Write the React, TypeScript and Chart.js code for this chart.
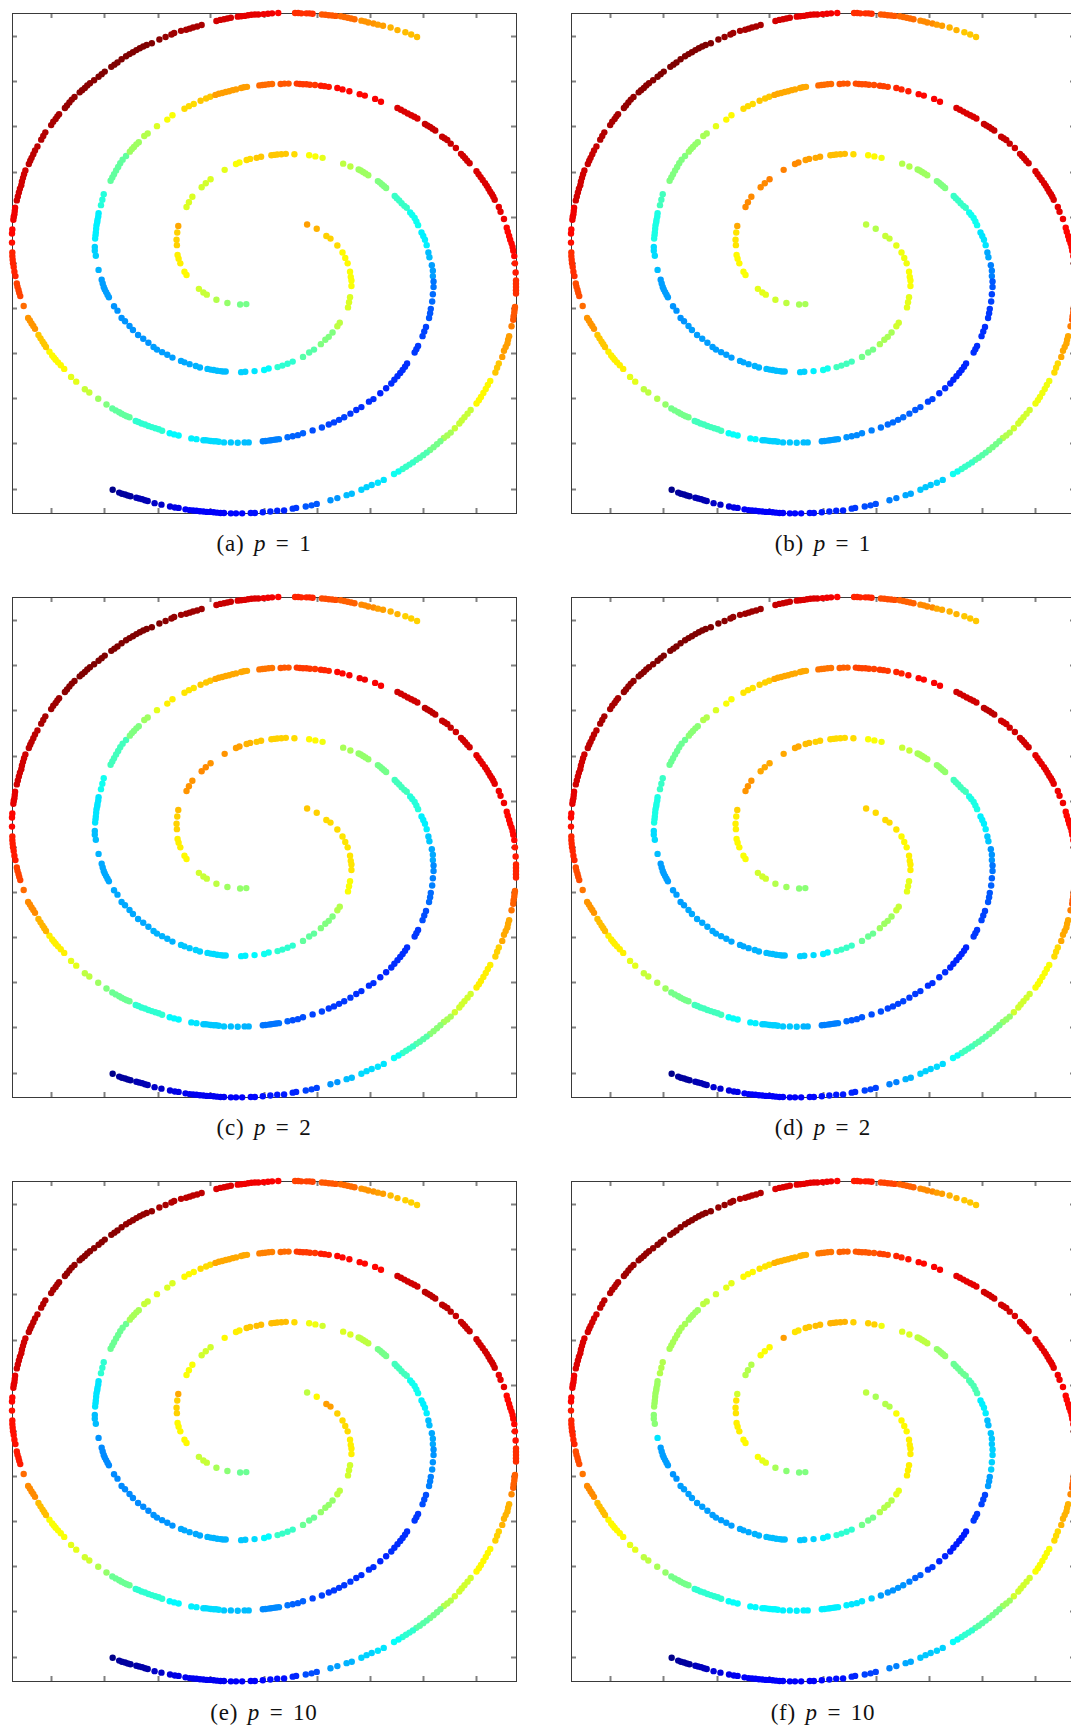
import React, { useEffect, useRef } from "react";
import { Chart, registerables } from "chart.js";

Chart.register(...registerables);

// Read-off coordinates along the two spiral arms, grouped in runs of neighbouring points.
const spiralX: number[][] = [
  [892],[920],[948,960],[980],[995,1003,1010],[1017,1019,1021,1021],[1017,1014,1011],[987,980],[966,955,945,932],[912,898,880],
  [850,835,820,806],[780,767],[739],[712,700],[655,647,640,630,620,611,602],[580,568],[550,535,525],[500,485,470,455,445],[430,415,400,385,375],[362,352],
  [340,330],[315,311,307,303,300,297,294],[285],[277,274,274],[275,276,277,278,279,281,282,284,285],[292,296,300],[320,325,330,336,342,348,355,365],[376,382,388,395,402],[418,428],[455],
  [485,500],[535,548,562],[582,598,610],[625,635,645,655,665,675,685,700,708,717],[753,762,770,780,790],[815,826,838],[862,871,880,890,900,915],[932,943,955],[980,995],[1015],
  [1045,1060],[1090,1107],[1155,1165,1175,1185,1195,1204,1213],[1235,1242,1250,1257,1265],[1285,1292,1300,1310],[1325],[1340,1346,1352,1358,1365],[1385,1391,1397,1403,1410,1415,1420,1425,1430,1434,1438],[1450,1455],[1465],
  [1473,1476,1480,1483,1487,1490,1492,1495],[1497,1499],[1500,1500,1500,1500,1500],[1497,1496,1495,1493,1492],[1487],[1480,1477,1475,1470,1465,1460],[1450,1445,1440],[1425,1418,1412,1405,1398,1392,1385],[1368,1359,1350,1342,1335,1322],[1310,1300,1290],
  [1280,1270,1260,1250],[1240,1230,1220,1210],[1200,1190,1180,1170],[1158,1145],[1115,1098],[1080,1065,1050],[1022,1007],[980,960],[920,905,888],[860,850],
  [825,805,785],[763],[740,728],[703,685,670],[650,640,630,620,610,600,590,580,570,560,550,538],[518,507],[493],[468,448],[428,420,412,403,395],[378,370,362,353,345],
  [326],[715,697],[660],[628],[600,590],[577],[541,535],[523,518,515],[513,512,514],[517],
  [541,548,558],[585,597],[611],[652],[685,695],[716,726],[745,758],[788,796,805,817,830],[855],[898,916],
  [937],[997,1018],[1042,1048,1055,1062,1070],[1098,1104,1110,1116,1122],[1147,1153,1160,1167,1175,1182],[1192,1198,1205,1210,1215],[1225,1230,1235,1240],[1245,1248],[1255,1258,1258],[1260,1260],
  [1258,1256],[1252,1250,1247],[1238,1233,1228],[1215,1210,1205],[1183,1177,1170,1163,1155,1146,1137],[1122,1105],[1085,1072],[1050,1035],[1018],[1000,985,970,955],
  [935],[908],[880,865,850],[835],[810,802,795,787,780,771,763],[722,710],[690,670],[650],[635,627,620,612,605,597,590],[570,555],
  [518,505,492],[470,460,450,440,430,420,410,401,393],[375,367,360,352,345,335,325],[308],[284],[258,245],[220,205],[185,175,167,160,155,150,142],[132,127,122,116,110],[100,95,90,85,80],
  [67],[57,54,52,49,47],[43,40,38,36,35,34,34],[33],[33,34],[37,38,40,41,42],[47,50,53,56,60,62,65,68,72],[82,86,90,95,100,107],[118,124,130],[147,153,160,165,170],
  [187,193,200,207,215],[230,237,245,252,260,272],[285,294,303],[322,331,340,352],[365,375,385,395,405,415,425,440],[462],[480],[497,505],[525,540,550,560,572,585],[628,639,650,660,670],
  [690,700,710,720,730,740,750],[765,778,790],[808],[857,866,875,890,899,908],[935,945,955,965,975],[990,1000,1010,1020,1030],[1050,1060,1070,1085],[1098,1113],[1135,1155],[1178,1195,1212],
];
const spiralY: number[][] = [
  [618],[630],[650,657],[676],[695,710,725],[748,762,772,787],[818,832,846],[888,898],[915,927,935,947],[962,970,982],
  [995,1001,1006,1010],[1014,1018],[1021],[1023,1024],[1022,1022,1021,1020,1018,1017,1015],[1011,1007],[1002,997,993],[984,976,969,962,955],[943,932,922,908,897],[884,875],
  [855,843],[818,811,804,797,790,780,770],[743],[704,690,680],[657,648,640,630,620,612,605,596,587],[565,550,535],[498,489,480,470,460,450,440,430],[418,411,405,398,392],[375,368],[348],
  [330,318],[300,293,287],[278,272,267],[262,259,257,254,252,249,247,243,241,240],[236,235,234,233,232],[232,231,231],[231,232,233,233,234,235],[237,238,240],[243,247],[252],
  [260,264],[273,281],[298,303,308,313,318,322,327],[342,346,350,355,360],[377,381,386,396],[408],[424,430,436,443,450],[472,480,488,496,505,512,520,528,535,542,550],[570,583],[603],
  [627,638,650,660,670,680,690,705],[725,750],[772,781,790,799,808],[845,852,860,870,880],[898],[925,935,945,955,965,982],[1000,1012,1025],[1048,1059,1070,1081,1092,1101,1110],[1128,1138,1148,1157,1165,1178],[1190,1198,1205],
  [1214,1222,1230,1238],[1245,1252,1259,1265],[1272,1278,1284,1290],[1297,1304],[1320,1328],[1334,1340,1347],[1358,1362],[1370,1376],[1386,1390,1393],[1397,1399],
  [1404,1405,1407],[1409],[1411,1411],[1412,1412,1412],[1411,1411,1410,1409,1408,1408,1407,1406,1405,1404,1403,1401],[1397,1396],[1393],[1388,1384],[1378,1376,1373,1371,1369],[1365,1363,1360,1358,1355],
  [1347],[837,838],[834],[825],[811,805],[795],[757,748],[725,712,702],[675,660,640],[622],
  [570,557,542],[516,505],[494],[468],[452,448],[441,438],[435,432],[428,427,426,425,424],[425],[428,431],
  [435],[451,459],[467,470,474,478,483],[499,503,508,513,518],[540,546,552,560,567,572],[585,592,600,610,620],[640,650,660,675],[695,708],[730,745,760],[775,790],
  [810,830],[850,862,875],[900,912,925],[952,961,970],[1000,1009,1018,1026,1035,1045,1055],[1068,1082],[1098,1105],[1120,1128],[1138],[1148,1155,1162,1168],
  [1176],[1184],[1192,1197,1200],[1203],[1208,1209,1210,1211,1212,1213,1214],[1217,1217],[1218,1217],[1217],[1215,1214,1214,1213,1212,1211,1211],[1208,1206],
  [1198,1195,1192],[1185,1181,1178,1175,1172,1168,1165,1161,1158],[1148,1145,1142,1138,1134,1129,1124],[1113],[1097],[1080,1071],[1050,1037],[1015,1005,997,990,984,978,968],[955,947,940,931,922],[905,897,890,882,875],
  [842],[815,806,798,789,780],[760,748,735,725,715,705,695],[668],[643,632],[605,597,590,581,572],[552,541,530,520,510,500,490,480,470],[452,443,435,425,415,404],[385,375,365],[345,336,328,321,315],
  [298,291,283,275,268],[255,249,243,236,230,222],[212,205,198],[185,179,173,164],[156,150,145,139,134,129,125,120],[110],[103],[96,92],[86,83,80,77,74,70],[59,56,54,52,50],
  [47,46,45,43,42,41,41],[40,39,38],[37],[37,37,38,38,38,39],[41,42,43,44,45],[46,48,50,52,54],[58,60,63,66],[69,72],[77,84],[90,96,103],
];

// Colormap position (percent of the jet range) of each run, one list per panel.
const colorsA = [
  72,70,67,66,63,62,59,56,50,46, 42,37,35,33,31,30,29,28,27,27, 27,28,30,33,36,41,47,53,55,59,
  62,66,68,72,77,79,82,85,87,87, 87,88,91,93,93,92,92,91,90,89, 87,85,83,79,75,72,68,63,57,54,
  49,45,43,39,35,33,31,27,21,18, 16,15,14,13,12,10,9,7,5,3, 1,49,52,55,57,58,63,64,67,71,
  59,58,59,60,62,66,68,68,66,62, 60,56,53,50,43,39,36,31,28,24, 23,21,19,18,17,16,17,17,18,19,
  20,20,22,23,25,31,32,33,34,36, 37,42,47,50,53,57,60,63,68,73, 77,81,84,86,87,89,92,94,95,96,
  98,99,100,100,100,99,98,97,96,92, 90,89,87,83,79,77,73,72,70,69,
];
const colorsB = [
  56,55,57,60,61,62,60,58,54,49, 44,39,36,33,31,30,29,28,28,27, 27,28,31,34,40,44,50,52,54,60,
  63,66,68,71,77,79,80,81,84,85, 87,88,91,93,93,92,92,91,90,89, 87,85,83,79,75,71,66,61,58,55,
  49,46,43,39,33,32,29,25,20,18, 16,15,14,13,12,10,9,7,5,3, 1,54,56,58,60,60,62,63,65,71,
  74,74,75,75,74,72,71,69,66,63, 61,55,53,50,43,39,35,29,25,21, 19,18,17,17,16,17,19,21,22,23,
  24,25,26,27,28,31,32,32,33,37, 38,44,49,52,55,56,60,64,68,73, 77,80,83,86,87,89,92,93,95,96,
  98,99,100,100,100,99,98,97,96,92, 90,89,87,83,79,77,74,72,70,68,
];
const colorsC = [
  68,67,66,66,65,65,62,55,50,47, 42,39,37,36,34,33,32,30,29,29, 29,29,30,31,35,39,44,50,53,60,
  64,65,68,71,76,79,82,84,87,88, 89,88,92,94,93,92,92,90,89,89, 87,85,84,78,76,71,67,64,58,54,
  51,46,43,38,35,34,31,27,19,16, 15,14,13,12,11,10,9,7,5,3, 1,52,53,56,57,58,63,64,67,69,
  73,74,73,73,72,70,68,67,66,63, 61,54,52,49,44,41,36,32,29,26, 25,23,20,18,17,16,17,17,18,18,
  19,19,20,22,24,30,31,32,32,35, 37,42,48,50,53,56,60,64,70,74, 77,81,85,87,87,90,92,94,96,97,
  99,100,100,100,100,100,99,98,97,93, 91,89,87,84,80,78,74,72,70,67,
];
const colorsD = [
  67,66,66,65,63,64,60,57,53,48, 43,36,34,33,31,30,29,29,29,28, 28,28,31,34,40,43,48,51,55,59,
  62,65,67,71,76,78,81,82,84,86, 87,88,92,94,92,92,92,90,89,89, 87,85,83,79,75,71,66,62,58,52,
  49,46,44,38,34,33,30,25,19,16, 15,14,13,12,12,10,9,8,5,3, 1,51,53,55,58,58,62,63,64,67,
  73,71,71,71,71,69,67,66,66,62, 61,57,54,52,44,40,36,32,27,24, 22,21,19,18,16,17,17,18,18,19,
  20,20,21,23,25,30,32,32,33,36, 38,44,49,53,55,57,60,64,69,73, 76,80,84,86,87,90,92,94,96,96,
  98,99,100,100,100,100,99,98,97,93, 91,89,87,84,80,78,74,71,70,68,
];
const colorsE = [
  56,63,72,67,66,64,58,56,52,48, 43,37,34,32,30,29,29,27,26,26, 26,26,27,31,35,42,48,54,57,60,
  59,63,66,71,75,77,82,85,87,87, 87,87,92,94,94,93,93,92,90,90, 87,86,83,78,74,70,67,63,58,55,
  49,46,42,38,35,33,30,28,20,16, 14,13,12,12,11,10,9,7,4,3, 1,48,51,54,57,57,63,63,67,71,
  62,58,58,63,64,68,69,69,66,61, 58,59,56,49,44,39,36,31,29,27, 27,25,20,18,17,16,17,17,18,18,
  19,19,22,24,26,31,31,32,34,36, 37,42,48,52,55,58,60,62,69,74, 77,85,86,86,87,90,92,94,95,96,
  98,99,99,99,98,96,96,95,94,91, 89,88,87,81,79,77,73,72,69,67,
];
const colorsF = [
  56,54,55,62,63,64,64,60,55,49, 42,36,33,32,31,30,29,28,28,28, 27,28,35,51,53,55,54,53,56,58,
  60,63,65,70,76,78,79,81,84,86, 87,88,90,92,92,91,91,90,89,88, 87,85,83,78,74,70,66,62,58,53,
  49,46,42,38,33,32,29,25,19,16, 14,13,12,12,12,11,10,9,6,3, 1,50,51,54,60,62,63,64,65,58,
  55,62,63,72,65,68,69,70,67,67, 61,59,56,52,48,45,36,31,32,33, 33,28,19,18,15,16,18,22,25,27,
  28,33,35,36,36,36,36,36,37,37, 38,42,49,52,54,56,60,63,69,74, 76,80,84,85,87,89,91,92,94,95,
  97,98,99,99,99,98,98,97,95,91, 90,89,87,85,81,78,74,72,70,68,
];

const xTicks = [148, 303, 458, 612, 767, 921, 1076, 1230, 1386];
const yTicks = [101, 226, 350, 475, 600, 725, 848, 973, 1097, 1221, 1346];
const xRange = [33, 1500];
const yRange = [37, 1411];

const panelLetters = ["a", "b", "c", "d", "e", "f"];
const panelP = ["1", "1", "2", "2", "10", "10"];
const panelColors = [colorsA, colorsB, colorsC, colorsD, colorsE, colorsF];

const FRAME = { w: 504, h: 500, pad: 12 };
const LEFTS = [12, 571];
const TOPS = [13, 597, 1181];
const CAPTION_TOPS = [531, 1115, 1700];

function jet(percent: number): string {
  const v = percent / 100;
  const c = (d: number) => Math.round(255 * Math.max(0, Math.min(1, 1.5 - Math.abs(4 * v - d))));
  return `rgb(${c(3)},${c(2)},${c(1)})`;
}

function Panel({ index }: { index: number }) {
  const ref = useRef<HTMLCanvasElement>(null);
  useEffect(() => {
    const colors = panelColors[index];
    const data: { x: number; y: number }[] = [];
    const pointColors: string[] = [];
    spiralX.forEach((run, r) => {
      run.forEach((x, i) => {
        data.push({ x, y: spiralY[r][i] });
        pointColors.push(jet(colors[r]));
      });
    });
    const axis = (position: string, range: number[], ticks: number[], reverse: boolean) => ({
      type: "linear",
      position,
      min: range[0],
      max: range[1],
      reverse,
      afterBuildTicks: (s: any) => {
        s.ticks = ticks.map((value) => ({ value }));
      },
      afterFit: (s: any) => {
        if (position === "top" || position === "bottom") s.height = 0;
        else s.width = 0;
      },
      ticks: { display: false },
      border: { display: true, color: "#3a3a3a", width: 1 },
      grid: {
        display: true,
        drawOnChartArea: false,
        drawTicks: true,
        tickLength: -5,
        tickColor: "#808080",
        tickWidth: 2,
      },
    });
    const chart = new Chart(ref.current as HTMLCanvasElement, {
      type: "scatter",
      data: {
        datasets: [
          {
            data,
            pointRadius: 3.2,
            pointBorderWidth: 0,
            pointBackgroundColor: pointColors,
            clip: false,
          },
        ],
      } as any,
      options: {
        animation: false,
        responsive: false,
        events: [],
        layout: { padding: FRAME.pad },
        plugins: { legend: { display: false }, tooltip: { enabled: false } },
        scales: {
          x: axis("bottom", xRange, xTicks, false),
          x2: axis("top", xRange, xTicks, false),
          y: axis("left", yRange, yTicks, true),
          y2: axis("right", yRange, yTicks, true),
        } as any,
      },
    });
    return () => chart.destroy();
  }, [index]);

  const col = index % 2;
  const row = Math.floor(index / 2);
  return (
    <>
      <canvas
        ref={ref}
        width={FRAME.w + 2 * FRAME.pad}
        height={FRAME.h + 2 * FRAME.pad}
        style={{
          position: "absolute",
          display: "block",
          left: LEFTS[col] - FRAME.pad,
          top: TOPS[row] - FRAME.pad,
          width: FRAME.w + 2 * FRAME.pad,
          height: FRAME.h + 2 * FRAME.pad,
        }}
      />
      <div
        style={{
          position: "absolute",
          left: LEFTS[col],
          width: FRAME.w,
          top: CAPTION_TOPS[row],
          textAlign: "center",
          fontFamily: '"Liberation Serif", serif',
          fontSize: 23,
          lineHeight: "26px",
          letterSpacing: "0.8px",
          wordSpacing: "3px",
          color: "#111",
          whiteSpace: "pre",
        }}
      >
        {`(${panelLetters[index]}) `}
        <i>p</i>
        {` = ${panelP[index]}`}
      </div>
    </>
  );
}

export default function App() {
  return (
    <div
      style={{
        position: "absolute",
        left: 0,
        top: 0,
        width: 1071,
        height: 1731,
        overflow: "hidden",
        background: "#fff",
      }}
    >
      {panelLetters.map((_, i) => (
        <Panel key={i} index={i} />
      ))}
    </div>
  );
}
